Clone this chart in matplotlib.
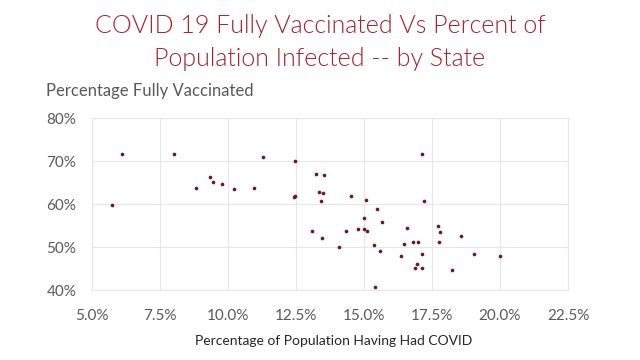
'''
    COVID 19 fully vaccinated vs percent of population infected, by state
'''

from matplotlib import pyplot as plt
from matplotlib.ticker import FuncFormatter
import numpy as np

# percentage of population having had COVID
pct_infected = [6.13, 5.75, 8.03, 8.83, 9.34, 9.45, 9.77, 10.23, 10.96, 11.31,
                12.46, 12.44, 12.46, 13.25, 13.55, 13.35, 13.48, 13.44, 13.10, 13.46,
                14.08, 14.35, 14.52, 14.79, 15.00, 15.00, 15.13, 15.08, 15.48, 15.67,
                15.39, 15.59, 15.42, 16.35, 16.47, 16.59, 16.82, 17.00, 16.97, 16.89,
                17.12, 17.14, 17.12, 17.21, 17.74, 17.80, 17.76, 18.57, 18.25, 19.03,
                19.99]

# percentage fully vaccinated
pct_vaccinated = [71.6, 59.9, 71.6, 63.7, 66.4, 65.1, 64.7, 63.6, 63.8, 71.1,
                  70.1, 61.6, 61.9, 67.1, 66.7, 62.9, 62.6, 60.8, 53.8, 52.2,
                  50.1, 53.8, 62.0, 54.3, 56.8, 54.3, 53.7, 60.9, 58.8, 55.9,
                  50.4, 49.1, 40.8, 47.9, 50.8, 54.5, 51.2, 51.2, 46.0, 45.1,
                  45.2, 48.4, 71.7, 60.8, 55.0, 53.6, 51.1, 52.6, 44.6, 48.4,
                  48.0]

x_ticks = np.arange(5.0, 22.51, 2.5)
y_ticks = np.arange(40, 81, 10)

TEXT_GREY = '#595959'
GRID_GREY = '#e6e6e6'
TITLE_RED = '#a3222d'


def main():
    fig = plt.figure(figsize=(6.4, 3.6), dpi=100)
    fig.patch.set_facecolor('white')
    ax = fig.add_axes([91.7 / 640, 1 - 290 / 360, (568 - 91.7) / 640, (290 - 118.3) / 360])

    ax.scatter(pct_infected, pct_vaccinated, s=7, color='#6b1a24', zorder=3,
               linewidths=0)

    ax.set_xlim(5.0, 22.5)
    ax.set_ylim(40, 80)
    ax.set_xticks(x_ticks)
    ax.set_yticks(y_ticks)
    ax.xaxis.set_major_formatter(FuncFormatter(lambda v, p: '{:.1f}%'.format(v)))
    ax.yaxis.set_major_formatter(FuncFormatter(lambda v, p: '{:.0f}%'.format(v)))
    ax.tick_params(length=0, labelsize=11, labelcolor=TEXT_GREY,
                   labelfontfamily='Lato')
    ax.tick_params(axis='y', pad=11)
    ax.tick_params(axis='x', pad=14)
    ax.grid(True, color=GRID_GREY, linewidth=0.8)
    ax.set_axisbelow(True)
    for s in ax.spines.values():
        s.set_color(GRID_GREY)
        s.set_linewidth(0.8)

    fig.text(0.5, 1 - 33 / 360, 'COVID 19 Fully Vaccinated Vs Percent of',
             ha='center', va='baseline', fontsize=18, color=TITLE_RED,
             family='Lato', fontweight=300)
    fig.text(0.5, 1 - 66 / 360, 'Population Infected -- by State',
             ha='center', va='baseline', fontsize=18, color=TITLE_RED,
             family='Lato', fontweight=300)
    fig.text(46 / 640, 1 - 96 / 360, 'Percentage Fully Vaccinated',
             ha='left', va='baseline', fontsize=12, color=TEXT_GREY, family='Lato')
    fig.text(334 / 640, 1 - 345 / 360, 'Percentage of Population Having Had COVID',
             ha='center', va='baseline', fontsize=10, color='#262626', family='Lato')

    fig.savefig('out.png', dpi=100)
    plt.close(fig)


if __name__ == '__main__': main()
